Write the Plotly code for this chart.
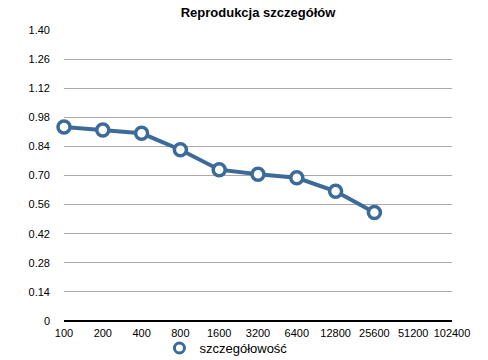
import plotly.graph_objects as go

categories = ["100", "200", "400", "800", "1600", "3200", "6400", "12800", "25600", "51200", "102400"]
values = [0.933, 0.919, 0.903, 0.824, 0.728, 0.706, 0.689, 0.624, 0.522, None, None]
series_name = "szczegółowość"
title_text = "Reprodukcja szczegółów"
y_ticks = [0, 0.14, 0.28, 0.42, 0.56, 0.70, 0.84, 0.98, 1.12, 1.26, 1.40]
y_ticktext = ["0", "0.14", "0.28", "0.42", "0.56", "0.70", "0.84", "0.98", "1.12", "1.26", "1.40"]

color = "#3C6A9A"
fig = go.Figure()
fig.add_trace(go.Scatter(
    x=categories, y=values, mode="lines+markers", name=series_name,
    line=dict(color=color, width=4),
    marker=dict(symbol="circle", size=12, color="white", line=dict(color=color, width=3.5)),
    cliponaxis=False, showlegend=False,
))
fig.add_trace(go.Scatter(
    x=[None], y=[None], mode="markers", name=series_name,
    marker=dict(symbol="circle", size=10, color="white", line=dict(color=color, width=3)),
    showlegend=True,
))

fig.update_layout(
    width=488, height=360,
    margin=dict(l=64, r=36, t=30, b=39, autoexpand=False),
    paper_bgcolor="white", plot_bgcolor="white",
    font=dict(family="Liberation Sans, Arial, sans-serif", size=11, color="black"),
    title=dict(text="<b>" + title_text + "</b>", x=(64 + 194) / 488, xanchor="center",
               y=1 - 12 / 360, yanchor="middle", font=dict(size=13)),
    xaxis=dict(type="category", categoryorder="array", categoryarray=categories,
               range=[0, len(categories) - 1], showgrid=False, showline=False,
               zeroline=False, ticks="", tickfont=dict(size=11), automargin=False,
               ticklabelstandoff=4),
    yaxis=dict(range=[0, 1.4], tickvals=y_ticks, ticktext=y_ticktext,
               showgrid=True, gridcolor="#AAAAAA", gridwidth=1,
               zeroline=True, zerolinecolor="black", zerolinewidth=1.5,
               showline=False, ticks="", ticklabelstandoff=13, tickfont=dict(size=11),
               automargin=False),
    legend=dict(orientation="h", x=0.246, xanchor="left", y=-0.093, yanchor="middle",
                font=dict(size=13), bgcolor="rgba(0,0,0,0)"),
    showlegend=True,
)

fig.write_html("out.html", config={"displayModeBar": False},
               post_script="document.body.style.margin='0';")
